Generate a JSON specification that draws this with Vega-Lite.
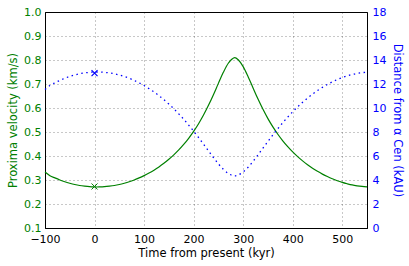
{
  "$schema": "https://vega.github.io/schema/vega-lite/v6.json",
  "width": 322,
  "height": 216,
  "autosize": {"type": "none"},
  "padding": {"left": 45, "top": 12, "right": 42, "bottom": 38},
  "datasets": {
    "orbit": [
      {"t": -100, "v": 0.333, "d": 11.55},
      {"t": -90, "v": 0.318, "d": 11.87},
      {"t": -80, "v": 0.3087, "d": 12.097},
      {"t": -70, "v": 0.3002, "d": 12.30},
      {"t": -60, "v": 0.2927, "d": 12.478},
      {"t": -50, "v": 0.2865, "d": 12.627},
      {"t": -40, "v": 0.2812, "d": 12.75},
      {"t": -30, "v": 0.2771, "d": 12.853},
      {"t": -20, "v": 0.2743, "d": 12.922},
      {"t": -10, "v": 0.2722, "d": 12.971},
      {"t": 0, "v": 0.2711, "d": 12.995},
      {"t": 5, "v": 0.2708, "d": 13.0},
      {"t": 10, "v": 0.2711, "d": 12.995},
      {"t": 20, "v": 0.2722, "d": 12.971},
      {"t": 30, "v": 0.2743, "d": 12.922},
      {"t": 40, "v": 0.2771, "d": 12.853},
      {"t": 50, "v": 0.2812, "d": 12.75},
      {"t": 60, "v": 0.2865, "d": 12.627},
      {"t": 70, "v": 0.2927, "d": 12.478},
      {"t": 80, "v": 0.3002, "d": 12.30},
      {"t": 90, "v": 0.3087, "d": 12.097},
      {"t": 100, "v": 0.3183, "d": 11.87},
      {"t": 110, "v": 0.329, "d": 11.617},
      {"t": 120, "v": 0.3411, "d": 11.338},
      {"t": 130, "v": 0.3546, "d": 11.03},
      {"t": 140, "v": 0.3697, "d": 10.692},
      {"t": 150, "v": 0.3864, "d": 10.326},
      {"t": 160, "v": 0.4049, "d": 9.933},
      {"t": 170, "v": 0.4254, "d": 9.511},
      {"t": 180, "v": 0.4483, "d": 9.059},
      {"t": 190, "v": 0.4739, "d": 8.579},
      {"t": 200, "v": 0.5025, "d": 8.072},
      {"t": 210, "v": 0.5346, "d": 7.542},
      {"t": 220, "v": 0.5707, "d": 6.991},
      {"t": 230, "v": 0.611, "d": 6.431},
      {"t": 240, "v": 0.6554, "d": 5.874},
      {"t": 250, "v": 0.7026, "d": 5.346},
      {"t": 260, "v": 0.7485, "d": 4.887},
      {"t": 270, "v": 0.7865, "d": 4.547},
      {"t": 277, "v": 0.803, "d": 4.40},
      {"t": 283, "v": 0.81, "d": 4.35},
      {"t": 290, "v": 0.801, "d": 4.425},
      {"t": 300, "v": 0.7725, "d": 4.667},
      {"t": 310, "v": 0.7305, "d": 5.061},
      {"t": 320, "v": 0.6834, "d": 5.553},
      {"t": 330, "v": 0.6372, "d": 6.096},
      {"t": 340, "v": 0.5945, "d": 6.655},
      {"t": 350, "v": 0.5558, "d": 7.214},
      {"t": 360, "v": 0.5213, "d": 7.757},
      {"t": 370, "v": 0.4907, "d": 8.279},
      {"t": 380, "v": 0.4633, "d": 8.775},
      {"t": 390, "v": 0.4389, "d": 9.243},
      {"t": 400, "v": 0.417, "d": 9.683},
      {"t": 410, "v": 0.3973, "d": 10.094},
      {"t": 420, "v": 0.3796, "d": 10.476},
      {"t": 430, "v": 0.3635, "d": 10.831},
      {"t": 440, "v": 0.349, "d": 11.157},
      {"t": 450, "v": 0.3361, "d": 11.453},
      {"t": 460, "v": 0.3246, "d": 11.721},
      {"t": 470, "v": 0.3143, "d": 11.964},
      {"t": 480, "v": 0.3051, "d": 12.181},
      {"t": 490, "v": 0.297, "d": 12.374},
      {"t": 500, "v": 0.2901, "d": 12.541},
      {"t": 510, "v": 0.2844, "d": 12.677},
      {"t": 520, "v": 0.2794, "d": 12.796},
      {"t": 530, "v": 0.2759, "d": 12.883},
      {"t": 540, "v": 0.2733, "d": 12.945},
      {"t": 550, "v": 0.2716, "d": 12.984}
    ],
    "now": [{"t": 0, "v": 0.273, "d": 12.9}]
  },
  "config": {
    "font": "DejaVu Sans",
    "view": {"stroke": "black", "strokeWidth": 1},
    "axis": {
      "labelFont": "DejaVu Sans",
      "titleFont": "DejaVu Sans",
      "labelFontSize": 11,
      "titleFontSize": 11.5,
      "titleFontWeight": "normal",
      "domainColor": "black",
      "ticks": false,
      "gridColor": "black",
      "gridDash": [1, 3],
      "gridOpacity": 0.55,
      "gridWidth": 0.8,
      "labelPadding": 4
    }
  },
  "encoding": {
    "x": {
      "field": "t",
      "type": "quantitative",
      "scale": {"domain": [-100, 550], "nice": false},
      "axis": {
        "title": "Time from present (kyr)",
        "values": [-100, 0, 100, 200, 300, 400, 500],
        "grid": true,
        "labelColor": "black",
        "titleColor": "black",
        "labelFlush": false,
        "labelPadding": 5,
        "titlePadding": 3
      }
    }
  },
  "layer": [
    {
      "encoding": {
        "y": {
          "field": "v",
          "type": "quantitative",
          "scale": {"domain": [0.1, 1.0], "nice": false, "zero": false},
          "axis": {
            "orient": "left",
            "title": "Proxima velocity (km/s)",
            "values": [0.1, 0.2, 0.3, 0.4, 0.5, 0.6, 0.7, 0.8, 0.9, 1.0],
            "format": ".1f",
            "grid": true,
            "labelColor": "green",
            "titleColor": "green",
            "titlePadding": 5
          }
        }
      },
      "layer": [
        {
          "data": {"name": "orbit"},
          "mark": {"type": "line", "color": "#008000", "strokeWidth": 1.2, "interpolate": "monotone"}
        },
        {
          "data": {"name": "now"},
          "mark": {"type": "point", "shape": "M-1,-1L1,1M-1,1L1,-1", "filled": false, "color": "#008000", "size": 36, "strokeWidth": 1, "opacity": 1}
        }
      ]
    },
    {
      "encoding": {
        "y": {
          "field": "d",
          "type": "quantitative",
          "scale": {"domain": [0, 18], "nice": false},
          "axis": {
            "orient": "right",
            "title": "Distance from α Cen (kAU)",
            "values": [0, 2, 4, 6, 8, 10, 12, 14, 16, 18],
            "grid": false,
            "labelColor": "blue",
            "titleColor": "blue",
            "labelPadding": 5,
            "titlePadding": 6
          }
        }
      },
      "layer": [
        {
          "data": {"name": "orbit"},
          "mark": {"type": "line", "color": "blue", "strokeWidth": 1.3, "strokeDash": [1.5, 3.5], "interpolate": "monotone"}
        },
        {
          "data": {"name": "now"},
          "mark": {"type": "point", "shape": "M-1,-1L1,1M-1,1L1,-1", "filled": false, "color": "blue", "size": 36, "strokeWidth": 1.2, "opacity": 1}
        }
      ]
    }
  ],
  "resolve": {"scale": {"y": "independent"}}
}
